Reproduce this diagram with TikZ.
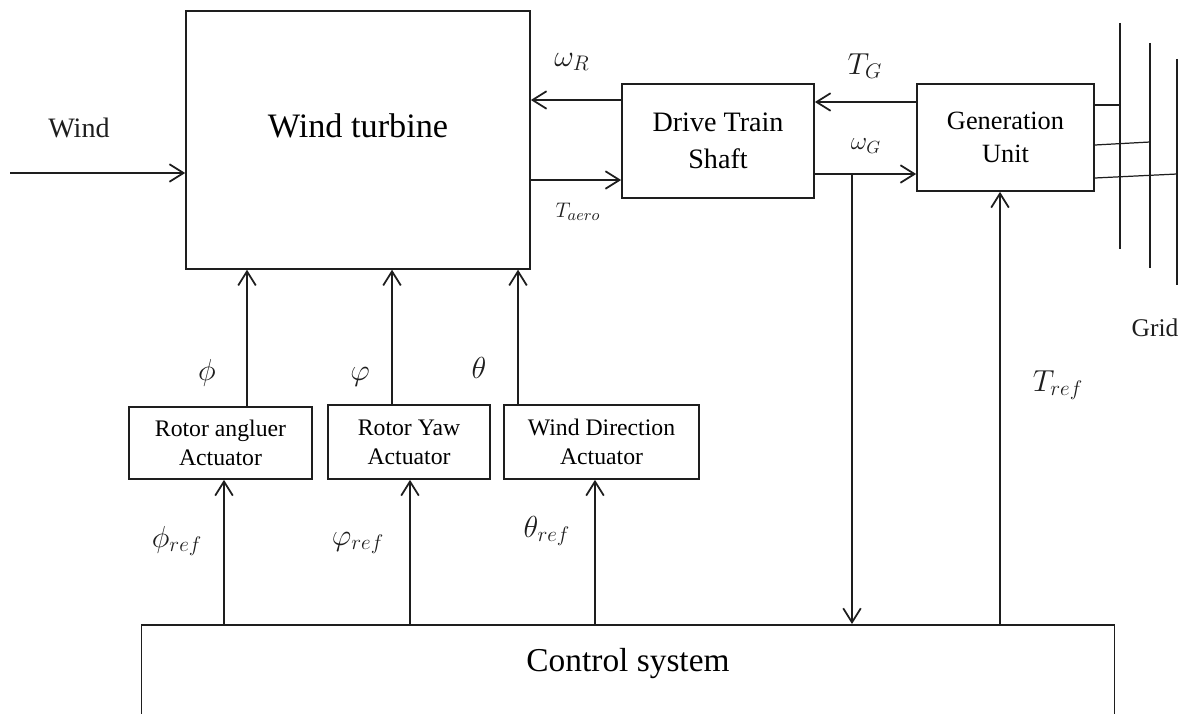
\documentclass[tikz,border=0pt]{standalone}
\usepackage{fontspec}
\setmainfont{Liberation Serif}
\usetikzlibrary{positioning, arrows.meta}
\definecolor{ink}{HTML}{1E1E1E}

\tikzset{
  block/.style={draw=ink, line width=1pt, align=center, inner sep=0pt},
  arr/.style={draw=ink, line width=1pt, -{Straight Barb[length=8pt,width=10pt]}},
  bus/.style={draw=ink, line width=0.7pt},
  lbl/.style={text=ink, inner sep=0pt}
}

\begin{document}
\begin{tikzpicture}[x=0.02cm, y=-0.02cm]
  \clip (0,0) rectangle (1189,713);
  \useasboundingbox (0,0) rectangle (1189,713);

  % blocks
  \node[block, anchor=north, minimum width=6.88cm, text height=2.54cm, text depth=2.62cm,
        font=\fontsize{19.5}{23}\selectfont] (turbine) at (358,10) {Wind turbine};
  \node[block, minimum width=3.84cm, minimum height=2.28cm,
        font=\fontsize{16}{21}\selectfont] (drive) at (718,141) {Drive Train\\Shaft};
  \node[block, minimum width=3.54cm, minimum height=2.14cm,
        font=\fontsize{15}{19}\selectfont] (gen) at (1005.5,137.5) {Generation\\Unit};
  \node[block, minimum width=3.66cm, minimum height=1.44cm,
        font=\fontsize{13.5}{16.5}\selectfont] (actA) at (220.5,443) {Rotor angluer\\Actuator};
  \node[block, minimum width=3.24cm, minimum height=1.48cm,
        font=\fontsize{13.5}{16.5}\selectfont] (actB) at (409,442) {Rotor Yaw\\Actuator};
  \node[block, minimum width=3.9cm, minimum height=1.48cm,
        font=\fontsize{13.5}{16.5}\selectfont] (actC) at (601.5,442) {Wind Direction\\Actuator};
  \node[block, anchor=north, minimum width=19.46cm, text height=0.94cm, text depth=1.8cm,
        font=\fontsize{19}{23}\selectfont] (control) at (628,624) {Control system};

  % signal flow
  \coordinate (windin) at (10,173);
  \draw[arr] (windin) -- (turbine.west |- windin);
  \draw[arr] (drive.west |- 0,100) -- (turbine.east |- 0,100);
  \draw[arr] (turbine.east |- 0,180) -- (drive.west |- 0,180);
  \draw[arr] (gen.west |- 0,102) -- (drive.east |- 0,102);
  \draw[arr] (drive.east |- 0,174) -- (gen.west |- 0,174);
  \coordinate (tap) at (852,174);
  \draw[arr] (tap) -- (tap |- control.north);
  \draw[arr] (control.north -| 1000,0) -- (gen.south -| 1000,0);

  \draw[arr] (actA.north -| 247,0) -- (turbine.south -| 247,0);
  \draw[arr] (actB.north -| 392,0) -- (turbine.south -| 392,0);
  \draw[arr] (actC.north -| 518,0) -- (turbine.south -| 518,0);
  \draw[arr] (control.north -| 224,0) -- (actA.south -| 224,0);
  \draw[arr] (control.north -| 410,0) -- (actB.south -| 410,0);
  \draw[arr] (control.north -| 595,0) -- (actC.south -| 595,0);

  % grid
  \draw[bus] (1120,23) -- (1120,249);
  \draw[bus] (1150,43) -- (1150,268);
  \draw[bus] (1177,59) -- (1177,285);
  \draw[bus] (gen.east |- 0,105) -- (1120,105);
  \draw[bus] (gen.east |- 0,145) -- (1150,142);
  \draw[bus] (gen.east |- 0,178) -- (1177,174);

  % labels
  \node[lbl, font=\fontsize{16}{19}\selectfont] (windlbl) at (79,128) {Wind};
  \node[lbl, font=\fontsize{14.5}{17}\selectfont] (gridlbl) at (1155,328) {Grid};
  \node[lbl, font=\fontsize{18}{21}\selectfont] (omR) at (572,62) {$\omega_R$};
  \node[lbl, font=\fontsize{13}{16}\selectfont] (taero) at (578,212) {$T_{aero}$};
  \node[lbl, font=\fontsize{18}{21}\selectfont] (tG) at (865,66) {$T_G$};
  \node[lbl, font=\fontsize{14}{17}\selectfont] (omG) at (866,146) {$\omega_G$};
  \node[lbl, font=\fontsize{18}{21}\selectfont] (tref) at (1058,385) {$T_{ref}$};
  \node[lbl, font=\fontsize{19}{22}\selectfont] (phi) at (207,373) {$\phi$};
  \node[lbl, font=\fontsize{19}{22}\selectfont] (vphi) at (360,377) {$\varphi$};
  \node[lbl, font=\fontsize{19}{22}\selectfont] (theta) at (479,368) {$\theta$};
  \node[lbl, font=\fontsize{18}{21}\selectfont] (phiref) at (177,541) {$\phi_{ref}$};
  \node[lbl, font=\fontsize{18}{21}\selectfont] (vphiref) at (358,543) {$\varphi_{ref}$};
  \node[lbl, font=\fontsize{18}{21}\selectfont] (thetaref) at (547,531) {$\theta_{ref}$};
\end{tikzpicture}
\end{document}
